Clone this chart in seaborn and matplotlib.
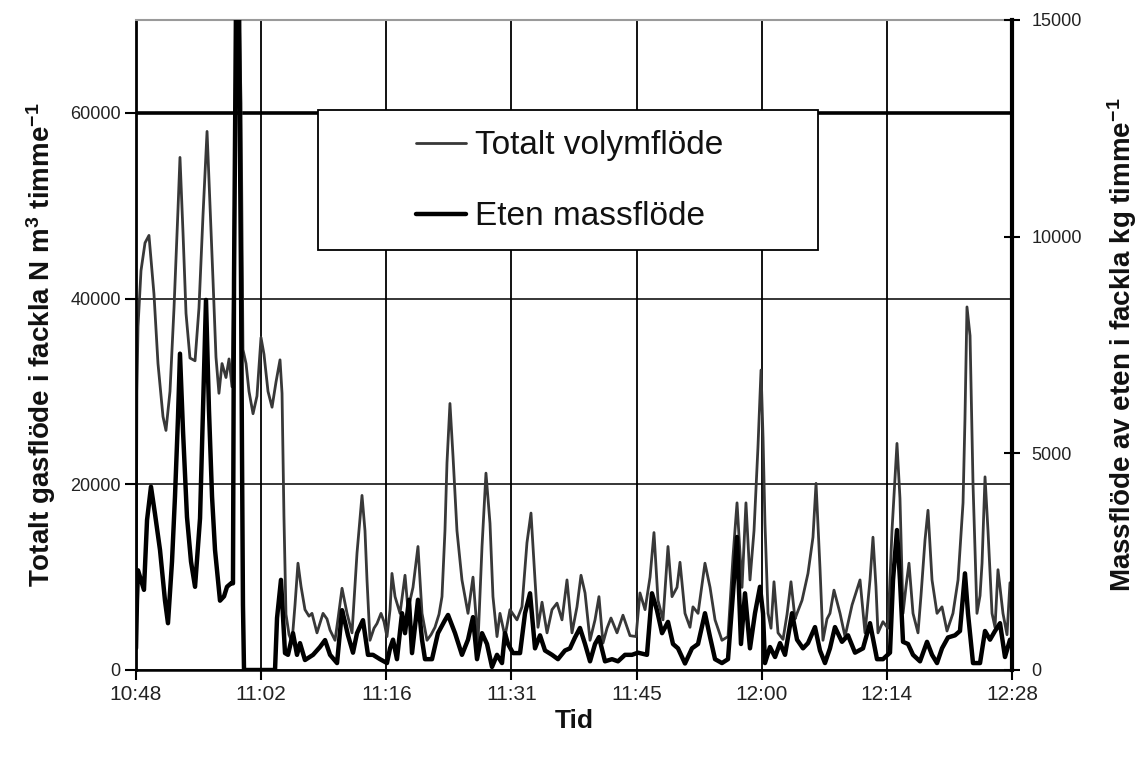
import numpy as np
import pandas as pd
import matplotlib
matplotlib.use("Agg")
import matplotlib.pyplot as plt
import seaborn as sns
from matplotlib.lines import Line2D
from matplotlib.patches import Rectangle

# ---------------- data (minutes after 10:48) ----------------
vol_t = [0.0, 0.1, 0.23, 0.57, 1.03, 1.48, 2.05, 2.51, 3.08, 3.42, 3.88, 4.34, 4.79, 5.02, 5.37,
         5.71, 6.16, 6.74, 7.19, 7.65, 8.11, 8.45, 8.79, 9.13, 9.47, 9.82, 10.27, 10.62, 10.96,
         11.19, 11.42, 11.76, 11.99, 12.21, 12.56, 12.90, 13.36, 13.81, 14.27, 14.61, 15.07,
         15.53, 15.98, 16.44, 16.67, 16.89, 17.12, 17.47, 17.81, 18.15, 18.49, 18.84, 19.29,
         19.75, 20.09, 20.66, 21.35, 21.80, 22.15, 22.72, 23.06, 23.52, 24.09, 24.66, 25.23,
         25.80, 26.14, 26.37, 26.71, 27.17, 27.51, 27.97, 28.31, 28.65, 29.0, 29.22, 29.57,
         30.14, 30.71, 31.05, 31.62, 32.19, 32.65, 33.22, 33.68, 34.13, 34.59, 34.93, 35.27,
         35.50, 35.84, 36.19, 36.64, 37.21, 37.90, 38.47, 39.04, 39.50, 39.95, 40.41, 40.75,
         41.21, 41.55, 42.12, 42.69, 43.49, 44.06, 44.63, 45.09, 45.55, 45.89, 46.35, 46.92,
         47.49, 48.06, 48.63, 49.20, 49.77, 50.34, 50.80, 51.26, 51.83, 52.40, 52.85, 53.31,
         53.77, 54.22, 54.91, 55.59, 56.39, 57.08, 57.53, 58.11, 58.68, 59.13, 59.59, 60.16,
         60.73, 61.19, 61.76, 62.10, 62.67, 63.24, 63.58, 64.16, 64.95, 65.53, 66.10, 66.89,
         67.58, 68.15, 68.61, 69.18, 69.63, 70.09, 70.55, 71.0, 71.35, 71.58, 71.80, 72.15,
         72.49, 72.83, 73.29, 73.86, 74.32, 74.77, 75.23, 75.46, 76.03, 76.71, 77.28, 77.63,
         78.08, 78.42, 78.88, 79.22, 79.68, 80.37, 80.94, 81.74, 82.65, 83.22, 83.79, 84.13,
         84.47, 84.70, 85.27, 85.84, 86.30, 86.87, 87.21, 87.56, 87.90, 88.24, 88.70, 89.27,
         89.61, 90.07, 90.41, 90.87, 91.44, 92.01, 92.58, 93.26, 93.84, 94.41, 94.63, 94.86,
         95.21, 95.55, 96.0, 96.35, 96.58, 96.92, 97.26, 97.72, 98.06, 98.40, 98.97, 99.43,
         99.77, 100.0]
vol_v = [3000, 30000, 37000, 43000, 46000, 46800, 40500, 33000, 27300, 25800, 30000, 39000, 49500,
         55200, 47000, 38400, 33600, 33300, 39000, 49000, 58000, 50000, 42000, 33700, 29800,
         33000, 31500, 33500, 30500, 45000, 72000, 72000, 61000, 34500, 33000, 30000, 27600,
         29500, 35800, 34000, 30000, 28300, 31000, 33400, 29800, 16500, 6000, 3800, 3000, 7000,
         11500, 9000, 6500, 5800, 6100, 4000, 6100, 5500, 4300, 3200, 5500, 8800, 6100, 4000,
         12600, 18800, 15000, 9700, 3200, 4500, 5000, 6100, 5200, 3600, 6500, 10400, 7900,
         6100, 10200, 6500, 8900, 13300, 6100, 3200, 3800, 4600, 6000, 7900, 15000, 22300,
         28700, 23000, 15000, 9700, 6100, 10000, 3000, 13300, 21200, 15800, 7900, 3600, 6100,
         3600, 6500, 5400, 6800, 13700, 16900, 9700, 4600, 7300, 4000, 6500, 7200, 5400, 9700,
         4000, 6800, 10200, 8300, 3200, 5400, 7900, 2900, 4500, 5600, 4000, 5900, 3700, 3600,
         8300, 6500, 10000, 14800, 7500, 5400, 13300, 7900, 8900, 11600, 6100, 4600, 6800,
         6100, 11500, 8900, 5400, 3200, 3600, 12200, 18000, 8900, 18000, 9700, 15000, 24000,
         32300, 25000, 15800, 6100, 4500, 9500, 4000, 3300, 6000, 9500, 5500, 6100, 7500,
         10400, 14300, 20100, 11000, 3200, 5500, 6100, 8600, 6100, 3600, 7000, 9700, 4000,
         9700, 14300, 9000, 4000, 5200, 4500, 15000, 24400, 18500, 6100, 9000, 11500, 6100,
         4000, 8000, 14000, 17200, 9700, 6100, 6800, 4200, 6100, 9700, 18000, 27000, 39100,
         36000, 20000, 6100, 8000, 11500, 20800, 15000, 6100, 4600, 10800, 6100, 3800, 9400,
         6100]

mass_t = [0.0, 0.11, 0.23, 0.46, 0.91, 1.26, 1.71, 2.17, 2.74, 3.31, 3.65, 4.11, 4.45, 4.79, 5.02,
          5.37, 5.82, 6.28, 6.74, 7.31, 7.65, 7.99, 8.33, 8.68, 9.02, 9.59, 10.05, 10.39, 10.85,
          11.07, 11.19, 11.42, 11.76, 11.87, 11.99, 12.10, 12.21, 12.33, 15.87, 16.10, 16.55,
          17.01, 17.35, 17.92, 18.38, 18.72, 19.29, 20.21, 21.0, 21.58, 22.15, 22.95, 23.52,
          23.86, 24.20, 24.77, 25.23, 25.91, 26.48, 27.05, 27.85, 28.65, 29.0, 29.34, 29.79,
          30.37, 30.71, 31.16, 31.51, 32.19, 32.65, 32.99, 33.79, 34.47, 35.27, 35.62, 36.42,
          37.21, 37.90, 38.47, 38.93, 39.50, 40.07, 40.64, 41.21, 41.78, 42.12, 42.47, 43.04,
          43.84, 44.41, 44.98, 45.55, 46.12, 46.69, 47.49, 48.17, 48.97, 49.54, 50.11, 50.68,
          51.26, 51.83, 52.40, 52.85, 53.54, 54.34, 55.02, 55.82, 56.62, 57.31, 58.33, 58.90,
          59.47, 60.05, 60.73, 61.30, 61.87, 62.67, 63.47, 64.16, 64.95, 65.53, 66.10, 66.89,
          67.58, 68.15, 68.61, 69.06, 69.52, 70.09, 70.66, 71.23, 71.58, 71.80, 72.37, 72.95,
          73.52, 74.09, 74.89, 75.46, 76.14, 76.71, 77.51, 78.08, 78.65, 79.22, 79.79, 80.59,
          81.28, 82.08, 82.99, 83.79, 84.59, 85.27, 86.07, 86.42, 86.87, 87.21, 87.56, 88.13,
          88.70, 89.50, 90.30, 90.87, 91.44, 92.01, 92.69, 93.49, 94.06, 94.63, 94.98, 95.55,
          96.35, 96.92, 97.49, 98.06, 98.63, 99.20, 99.77, 100.0]
mass_v = [500, 1600, 2300, 2150, 1850, 3460, 4230, 3600, 2770, 1600, 1080, 2500, 4000, 5800, 7300,
          5500, 3530, 2500, 1920, 3500, 6000, 8540, 6000, 4000, 2770, 1600, 1700, 1920, 2000,
          2000, 9000, 15500, 15500, 12000, 9000, 5000, 1500, 0, 0, 1200, 2080, 390, 350, 850,
          350, 620, 230, 350, 530, 690, 350, 160, 1380, 1100, 800, 400, 850, 1150, 350, 350,
          250, 160, 500, 700, 250, 1310, 850, 1620, 390, 1620, 700, 250, 250, 850, 1150, 1270,
          850, 350, 700, 1220, 250, 850, 600, 70, 350, 160, 850, 600, 390, 390, 1310, 1770,
          500, 800, 450, 350, 250, 450, 500, 750, 970, 600, 200, 600, 760, 200, 250, 200, 350,
          350, 400, 350, 1770, 1380, 850, 1110, 600, 500, 150, 500, 600, 1310, 760, 250, 160,
          250, 1770, 3070, 600, 1770, 500, 1310, 1920, 1300, 160, 530, 300, 620, 350, 1310,
          700, 500, 620, 990, 450, 160, 500, 990, 650, 800, 400, 500, 1080, 250, 250, 400,
          2080, 3230, 2080, 650, 600, 350, 200, 650, 350, 160, 500, 750, 800, 900, 2230, 1300,
          160, 160, 900, 700, 900, 1080, 300, 700, 600]

series_names = ["Totalt volymflöde", "Eten massflöde"]
xtick_labels = ["10:48", "11:02", "11:16", "11:31", "11:45", "12:00", "12:14", "12:28"]
left_ticks = [0, 20000, 40000, 60000]
right_ticks = [0, 5000, 10000, 15000]

# ---------------- style ----------------
sns.set_theme(style="white")
plt.rcParams['font.family'] = ['Liberation Sans', 'DejaVu Sans']
plt.rcParams['mathtext.default'] = 'regular'

W, H = 1144, 763
fig = plt.figure(figsize=(W / 100, H / 100), dpi=100)
ax = fig.add_axes([136 / W, 1 - 670 / H, 876 / W, 650 / H])
ax2 = ax.twinx()

vol_df = pd.DataFrame({"t": vol_t, "v": vol_v})
mass_df = pd.DataFrame({"t": mass_t, "v": mass_v})

gray = "#383838"
sns.lineplot(data=vol_df, x="t", y="v", ax=ax, color=gray, linewidth=2.0,
             sort=False, estimator=None, legend=False)
sns.lineplot(data=mass_df, x="t", y="v", ax=ax2, color="black", linewidth=3.2,
             sort=False, estimator=None, legend=False)

ax.set_xlim(0, 100)
ax.set_ylim(0, 70000)
ax2.set_ylim(0, 15000)

xt = [i * 100 / 7 for i in range(len(xtick_labels))]
ax.set_xticks(xt)
ax.set_xticklabels(xtick_labels)
ax.set_yticks(left_ticks)
ax.set_yticklabels([str(v) for v in left_ticks])
ax2.set_yticks(right_ticks)
ax2.set_yticklabels([str(v) for v in right_ticks])

ax.grid(True, axis='x', color='black', linewidth=1.3, zorder=0)
ax.grid(True, axis='y', color='black', linewidth=1.1, zorder=0)
ax.get_ygridlines()[3].set_linewidth(2.6)
ax.set_axisbelow(True)

label_col = "#222222"
ax.tick_params(axis='x', bottom=True, direction='out', length=7, width=1.5,
               labelsize=15, labelcolor=label_col, pad=4, color='black')
ax.tick_params(axis='y', left=True, direction='out', length=8, width=1.5,
               labelsize=13, labelcolor=label_col, pad=3, color='black')
ax2.tick_params(axis='y', right=True, direction='inout', length=12, width=1.5,
                labelsize=13, labelcolor=label_col, pad=8, color='black')

for s in ['left', 'bottom']:
    ax.spines[s].set_color('black')
ax.spines['left'].set_linewidth(2.0)
ax.spines['bottom'].set_linewidth(1.8)
ax.spines['top'].set_color('#9a9a9a')
ax.spines['top'].set_linewidth(1.5)
ax.spines['right'].set_visible(False)
for s in ['left', 'bottom', 'top']:
    ax2.spines[s].set_visible(False)
ax2.spines['right'].set_color('black')
ax2.spines['right'].set_linewidth(3.0)

ax.set_xlabel("Tid", fontsize=19, fontweight='bold', color='#111111')
ax.xaxis.set_label_coords(0.5, -0.06)
ax.set_ylabel("Totalt gasflöde i fackla N m$^{3}$ timme$^{-1}$", fontsize=20,
              fontweight='bold', color='#111111')
ax.yaxis.set_label_coords(-0.089, 0.5)
ax2.set_ylabel("Massflöde av eten i fackla kg timme$^{-1}$", fontsize=20,
               fontweight='bold', color='#111111', rotation=90)
ax2.yaxis.set_label_coords(1.106, 0.5)

# legend box
box = Rectangle((0.2078, 0.646), 0.5707, 0.2155, transform=ax2.transAxes,
                facecolor='white', edgecolor='black', linewidth=1.3, zorder=10)
ax2.add_patch(box)
handles = [Line2D([], [], color=gray, linewidth=2.0),
           Line2D([], [], color='black', linewidth=3.2)]
leg = ax2.legend(handles, series_names, loc='center', bbox_to_anchor=(0.495, 0.752),
                 frameon=False, fontsize=24, handlelength=1.5, handletextpad=0.25,
                 labelspacing=1.2)
leg.set_zorder(11)
for txt in leg.get_texts():
    txt.set_color('#111111')

fig.savefig("out.png", dpi=100)
